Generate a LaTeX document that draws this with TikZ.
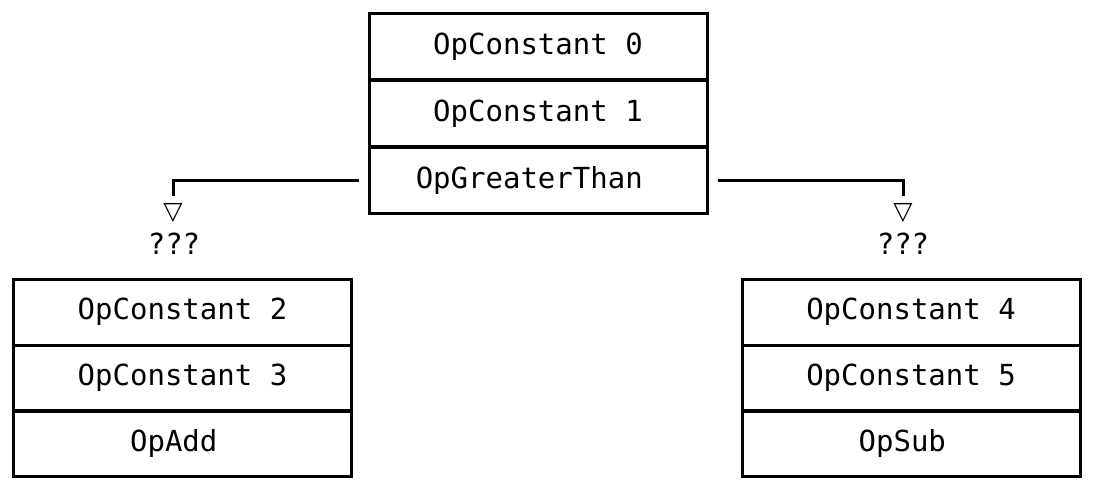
\documentclass[tikz,border=0pt]{standalone}
\usepackage{fontspec}
\setmonofont{DejaVu Sans Mono}
\newfontfamily\tripfont{DejaVu Sans}
\newcommand{\codefont}{\ttfamily\fontsize{29}{34}\selectfont}

\tikzset{
  rowbox/.style={draw, line width=3pt, minimum width=338pt, minimum height=66pt, inner sep=0pt, font=\codefont},
  conn/.style={line width=3pt},
  mark text/.style={inner sep=0pt, font=\codefont},
  tri text/.style={inner sep=0pt, font=\tripfont\fontsize{25}{29}\selectfont}
}

\begin{document}
\begin{tikzpicture}[x=1pt,y=1pt,yscale=-1,xscale=1]
\useasboundingbox (0,0) rectangle (1095,487);

%Shape: Rectangle [top stack]
\node [rowbox] (c0) at (538,47) {OpConstant 0};
\node [rowbox] (c1) at (538,113.5) {OpConstant 1};
\node [rowbox] (gt) at (538,180) {OpGreaterThan\hphantom{0}};

%Shape: Rectangle [left stack]
\node [rowbox] (c2) at (182.5,312) {OpConstant 2};
\node [rowbox] (c3) at (182.5,378) {OpConstant 3};
\node [rowbox] (add) at (182.5,443.5) {OpAdd\hphantom{0}};

%Shape: Rectangle [right stack]
\node [rowbox] (c4) at (911,312) {OpConstant 4};
\node [rowbox] (c5) at (911,378) {OpConstant 5};
\node [rowbox] (sub) at (911,443.5) {OpSub\hphantom{0}};

% Text Node
\node [tri text] (ltri) at (173,213) {▽};
\node [mark text] (lq) at (174,244) {???};
\node [tri text] (rtri) at (903,213) {▽};
\node [mark text] (rq) at (903,244) {???};

\coordinate (lend) at (173,196);
\coordinate (rend) at (903,196);

%Straight Lines
\draw [conn] ([xshift=-9pt]gt.west) -| (lend);
\draw [conn] ([xshift=9pt]gt.east) -| (rend);

\end{tikzpicture}
\end{document}
